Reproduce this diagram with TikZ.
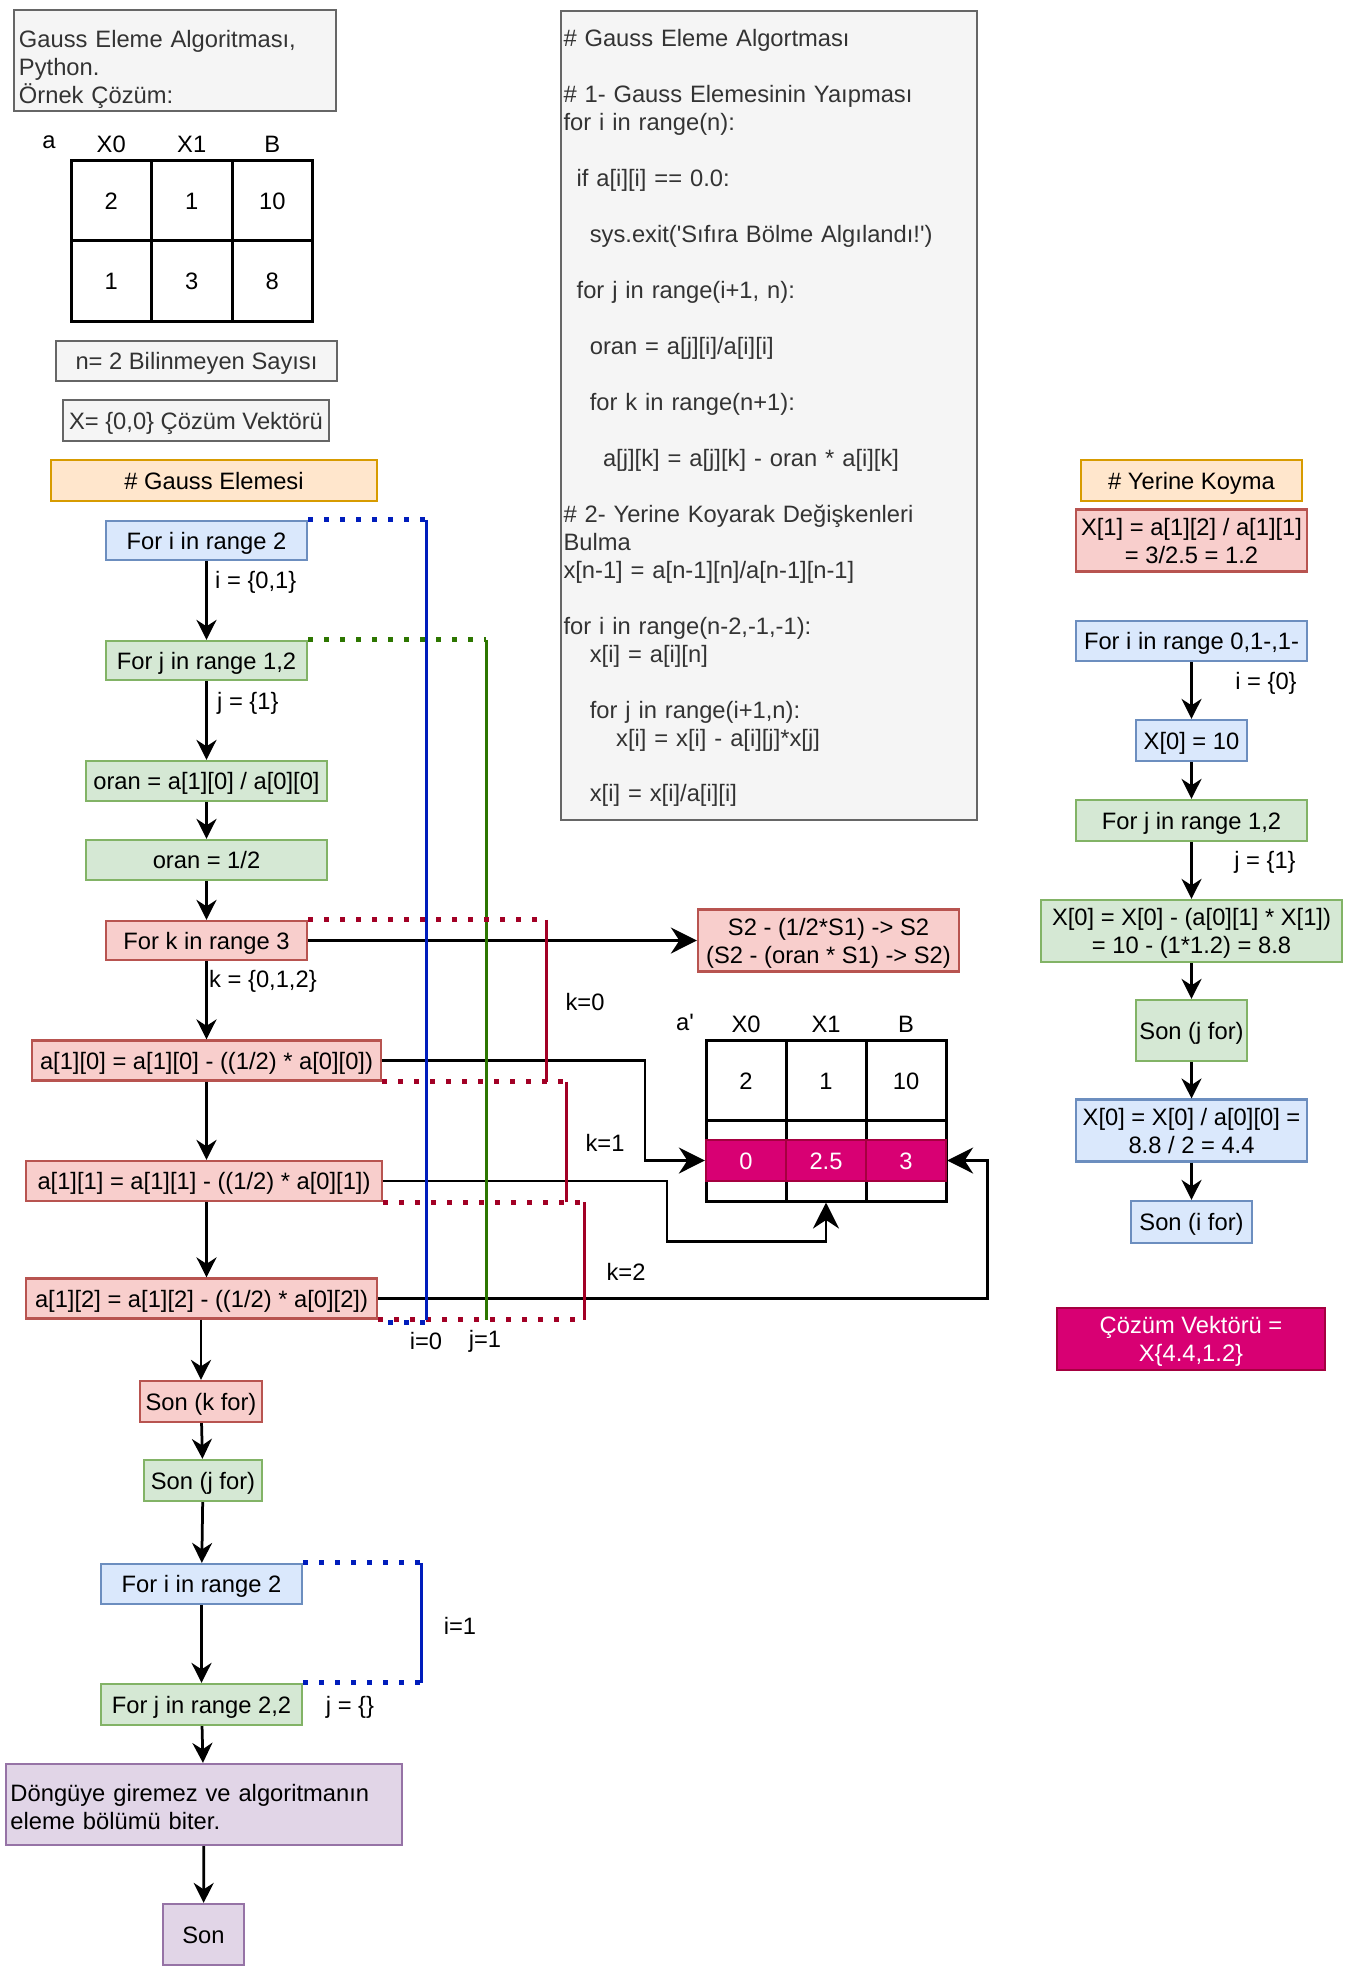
\documentclass[tikz,border=0pt]{standalone}
\usepackage{fontspec}
\setmainfont{Liberation Sans}
\newfontfamily\diafont{Liberation Sans}
\usetikzlibrary{arrows.meta}

\definecolor{bluefill}{HTML}{DAE8FC}
\definecolor{bluedraw}{HTML}{6C8EBF}
\definecolor{greenfill}{HTML}{D5E8D4}
\definecolor{greendraw}{HTML}{82B366}
\definecolor{redfill}{HTML}{F8CECC}
\definecolor{reddraw}{HTML}{B85450}
\definecolor{orangefill}{HTML}{FFE6CC}
\definecolor{orangedraw}{HTML}{D79B00}
\definecolor{purplefill}{HTML}{E1D5E7}
\definecolor{purpledraw}{HTML}{9673A6}
\definecolor{grayfill}{HTML}{F5F5F5}
\definecolor{graydraw}{HTML}{666666}
\definecolor{graytext}{HTML}{333333}
\definecolor{magfill}{HTML}{D80073}
\definecolor{magdraw}{HTML}{A50040}
\definecolor{iblue}{HTML}{001DBC}
\definecolor{jgreen}{HTML}{2D7600}
\definecolor{kred}{HTML}{A20025}

\newcommand{\codeind}[1]{\hspace*{#1\fontdimen2\font}}
\newcommand{\upstrut}{\rule{0pt}{13.2pt}}
\newcommand{\downstrut}{\rule[-3.2pt]{0pt}{0pt}}

\begin{document}
\begin{tikzpicture}[x=0.2mm, y=-0.2mm, font=\diafont\fontsize{13.5}{15.92}\selectfont]
		\tikzset{box/.style = {shape=rectangle, draw, line width=0.45mm, inner sep=0.5mm, align=center, text height=13.2pt, text depth=3.2pt},
			multi/.style = {text height=, text depth=},
			bluebox/.style = {box, fill=bluefill, draw=bluedraw},
			greenbox/.style = {box, fill=greenfill, draw=greendraw},
			redbox/.style = {box, fill=redfill, draw=reddraw},
			orangebox/.style = {box, fill=orangefill, draw=orangedraw},
			purplebox/.style = {box, fill=purplefill, draw=purpledraw},
			graybox/.style = {box, fill=grayfill, draw=graydraw, text=graytext},
			magbox/.style = {box, fill=magfill, draw=magdraw, text=white},
			cell/.style = {shape=rectangle, draw, line width=0.6mm, minimum width=16.1mm, minimum height=16.1mm, text height=13.2pt, text depth=3.2pt},
			arr/.style = {line width=0.55mm, -{Stealth[length=4mm, width=4mm, inset=1.3mm]}},
			bigarr/.style = {line width=0.55mm, -{Stealth[length=5.2mm, width=5.2mm, inset=1.7mm]}},
			idot/.style = {draw=iblue, line width=1mm, dash pattern=on 1.07mm off 2.13mm},
			iline/.style = {draw=iblue, line width=0.6mm},
			jdot/.style = {draw=jgreen, line width=1mm, dash pattern=on 1.07mm off 2.13mm},
			jline/.style = {draw=jgreen, line width=0.6mm},
			kdot/.style = {draw=kred, line width=1mm, dash pattern=on 1.07mm off 2.13mm},
			kline/.style = {draw=kred, line width=0.6mm}}

		\fill[white] (0,0) rectangle (1368,1987);

		\node[graybox, multi, text width=62.4mm, align=left, inner xsep=1mm, inner ysep=0.3mm, minimum height=20.2mm] (H_1) at (175,60.5) {\mbox{}\\[4pt]Gauss Eleme Algoritması,\\Python.\\Örnek Çözüm:};
		\node[graybox, minimum width=56.2mm, minimum height=8mm] (H_2) at (196.5,361) {n= 2 Bilinmeyen Sayısı};
		\node[graybox, minimum width=53.2mm, minimum height=8.2mm] (H_3) at (196,420.5) {X= \{0,0\} Çözüm Vektörü};
		\node[orangebox, minimum width=65.2mm, minimum height=8.2mm] (H_4) at (214,480.5) {\# Gauss Elemesi};
		\node[graybox, multi, text width=82.2mm, align=left, minimum height=161.8mm] (H_5) at (769,415.5) {\mbox{}\\[-3.1pt]\# Gauss Eleme Algortması\\
			\mbox{}\\
			\# 1- Gauss Elemesinin Yaıpması\\
			for i in range(n):\\
			\mbox{}\\
			\codeind{2}if a[i][i] == 0.0:\\
			\mbox{}\\
			\codeind{4}sys.exit('Sıfıra Bölme Algılandı!')\\
			\mbox{}\\
			\codeind{2}for j in range(i+1, n):\\
			\mbox{}\\
			\codeind{4}oran = a[j][i]/a[i][i]\\
			\mbox{}\\
			\codeind{4}for k in range(n+1):\\
			\mbox{}\\
			\codeind{6}a[j][k] = a[j][k] - oran * a[i][k]\\
			\mbox{}\\
			\# 2- Yerine Koyarak Değişkenleri\\
			Bulma\\
			x[n-1] = a[n-1][n]/a[n-1][n-1]\\
			\mbox{}\\
			for i in range(n-2,-1,-1):\\
			\codeind{4}x[i] = a[i][n]\\
			\mbox{}\\
			\codeind{4}for j in range(i+1,n):\\
			\codeind{8}x[i] = x[i] - a[i][j]*x[j]\\
			\mbox{}\\
			\codeind{4}x[i] = x[i]/a[i][i]};
		\node[orangebox, minimum width=44.2mm, minimum height=8.2mm] (H_6) at (1191.5,480.5) {\# Yerine Koyma};

		\node (A_0) at (49,142) {a};
		\node[cell, label=above:X0] (A_11) at (111.25,200.25) {2};
		\node[cell, label=above:X1] (A_12) at (191.75,200.25) {1};
		\node[cell, label=above:B] (A_13) at (272.25,200.25) {10};
		\node[cell] (A_21) at (111.25,280.75) {1};
		\node[cell] (A_22) at (191.75,280.75) {3};
		\node[cell] (A_23) at (272.25,280.75) {8};

		\node[bluebox, minimum width=40.2mm, minimum height=7.8mm] (L_1) at (206.5,540.5) {For i in range 2};
		\node[greenbox, minimum width=40.2mm, minimum height=7.8mm] (L_2) at (206.5,660.5) {For j in range 1,2};
		\node[greenbox, minimum width=48.2mm, minimum height=8mm] (L_3) at (206.5,781) {oran = a[1][0] / a[0][0]};
		\node[greenbox, minimum width=48.2mm, minimum height=8mm] (L_4) at (206.5,860) {oran = 1/2};
		\node[redbox, minimum width=40.2mm, minimum height=7.8mm] (L_5) at (206.5,940.5) {For k in range 3};
		\node[redbox, minimum width=69.8mm, minimum height=8mm] (L_6) at (206.5,1060.5) {a[1][0] = a[1][0] - ((1/2) * a[0][0])};
		\node[redbox, minimum width=71.2mm, minimum height=8mm] (L_7) at (204,1181) {a[1][1] = a[1][1] - ((1/2) * a[0][1])};
		\node[redbox, minimum width=70.2mm, minimum height=8mm] (L_8) at (201.5,1298.5) {a[1][2] = a[1][2] - ((1/2) * a[0][2])};
		\node[redbox, minimum width=24.4mm, minimum height=8.2mm] (L_9) at (201,1401.5) {Son (k for)};
		\node[greenbox, minimum width=23.6mm, minimum height=8.2mm] (L_10) at (203,1480.5) {Son (j for)};
		\node[bluebox, minimum width=40.2mm, minimum height=8mm] (L_11) at (201.5,1584) {For i in range 2};
		\node[greenbox, minimum width=40.2mm, minimum height=8.2mm] (L_12) at (201.5,1704.5) {For j in range 2,2};
		\node[purplebox, multi, text width=77.4mm, align=left, inner sep=0.9mm, minimum height=16.2mm] (L_13) at (204,1804.5) {\mbox{}\\[-3.1pt]Döngüye giremez ve algoritmanın\\eleme bölümü biter.};
		\node[purplebox, minimum width=16.2mm, minimum height=12.2mm] (L_14) at (203.5,1934.5) {Son};

		\draw[arr] (L_1)--(L_2);
		\draw[arr] (L_2)--(L_3);
		\draw[arr] (L_3)--(L_4);
		\draw[arr] (L_4)--(L_5);
		\draw[arr] (L_5)--(L_6);
		\draw[arr] (L_6)--(L_7.north -| L_6);
		\draw[arr] (L_7.south -| L_6)--(L_8.north -| L_6);
		\draw[arr] (L_8.south -| L_9)--(L_9);
		\draw[arr] (L_9)--(L_10);
		\draw[arr] (L_10)--(L_11);
		\draw[arr] (L_11)--(L_12);
		\draw[arr] (L_12)--(L_13);
		\draw[arr] (L_13)--(L_14);

		\node[anchor=west] (T_1) at (209,582) {i = \{0,1\}};
		\node[anchor=west] (T_2) at (211,703) {j = \{1\}};
		\node[anchor=west] (T_3) at (203,981) {k = \{0,1,2\}};
		\node (T_4) at (350,1707) {j = \{\}};
		\node (T_5) at (460,1626) {i=1};
		\node (T_6) at (585,1002) {k=0};
		\node (T_7) at (605,1143) {k=1};
		\node (T_8) at (626,1272) {k=2};
		\node (T_9) at (426,1341) {i=0};
		\node (T_10) at (485,1341) {j=1};

		\node[redbox, multi, minimum width=52.2mm, minimum height=12.2mm] (S_1) at (828.5,940.5) {\upstrut S2 - (1/2*S1) -> S2\\(S2 - (oran * S1) -> S2)\downstrut};
		\draw[bigarr] (L_5)--(S_1);

		\node (P_0) at (685,1022) {a'};
		\node[cell, minimum width=16mm, label=above:X0] (P_11) at (746,1080.25) {2};
		\node[cell, minimum width=16mm, label=above:X1] (P_12) at (826,1080.25) {1};
		\node[cell, minimum width=16mm, label=above:B] (P_13) at (906,1080.25) {10};
		\node[cell, minimum width=16mm] (P_21) at (746,1160.75) {};
		\node[cell, minimum width=16mm] (P_22) at (826,1160.75) {};
		\node[cell, minimum width=16mm] (P_23) at (906,1160.75) {};
		\node[magbox, minimum width=16mm, minimum height=8.2mm] (Q_1) at (746,1160.5) {0};
		\node[magbox, minimum width=16mm, minimum height=8.2mm] (Q_2) at (826,1160.5) {2.5};
		\node[magbox, minimum width=16mm, minimum height=8.2mm] (Q_3) at (906,1160.5) {3};

		\draw[bigarr] (L_6.east) -| ([xshift=-12mm]Q_1.west) -- (Q_1.west);
		\draw[bigarr] (L_7.east) -| ([shift={(-159,39)}]P_22.south) -| (P_22.south);
		\draw[bigarr] (L_8.east) -| ([xshift=8mm]Q_3.east) -- (Q_3.east);

		\coordinate (I_0) at (426,0);
		\coordinate (I_1) at (421,0);
		\coordinate (J_1) at (486,0);
		\coordinate (K_0) at (546,0);
		\coordinate (K_1) at (566,0);
		\coordinate (K_2) at (584.5,0);

		\draw[jdot] (L_2.north east)--(L_2.north east -| J_1);
		\draw[jline] (L_2.north east -| J_1)--(L_8.south east -| J_1);

		\draw[kdot] (L_5.north east)--(L_5.north east -| K_0);
		\draw[kline] (L_5.north east -| K_0)--(L_6.south east -| K_0);
		\draw[kdot] (L_6.south east)--(L_6.south east -| K_0);
		\draw[kdot] (L_6.south east)--(L_6.south east -| K_1);
		\draw[kline] (L_6.south east -| K_1)--(L_7.south east -| K_1);
		\draw[kdot] (L_7.south east)--(L_7.south east -| K_1);
		\draw[kdot] (L_7.south east)--(L_7.south east -| K_2);
		\draw[kline] (L_7.south east -| K_2)--(L_8.south east -| K_2);
		\draw[kdot] (L_8.south east)--(L_8.south east -| K_2);

		\draw[idot] (L_1.north east)--(L_1.north east -| I_0);
		\draw[iline] (L_1.north east -| I_0)--(L_8.south east -| I_0);
		\draw[idot, dash phase=1.2mm] ([yshift=-0.5mm]L_8.south east)--([yshift=-0.5mm]L_8.south east -| I_0);

		\draw[idot] (L_11.north east)--(L_11.north east -| I_1);
		\draw[iline] (L_11.north east -| I_1)--(L_12.north east -| I_1);
		\draw[idot] (L_12.north east)--(L_12.north east -| I_1);

		\node[redbox, multi, minimum width=46.2mm, minimum height=12.2mm] (R_1) at (1191.5,540.5) {\upstrut X[1] = a[1][2] / a[1][1]\\= 3/2.5 = 1.2\downstrut};
		\node[bluebox, minimum width=46.2mm, minimum height=8mm] (R_2) at (1191.5,641) {For i in range 0,1-,1-};
		\node[bluebox, minimum width=22.2mm, minimum height=8.2mm] (R_3) at (1191.5,740.5) {X[0] = 10};
		\node[greenbox, minimum width=46.2mm, minimum height=8.2mm] (R_4) at (1191.5,820.5) {For j in range 1,2};
		\node[greenbox, multi, minimum width=60.2mm, minimum height=12.4mm] (R_5) at (1191.5,931) {\upstrut X[0] = X[0] - (a[0][1] * X[1])\\= 10 - (1*1.2) = 8.8\downstrut};
		\node[greenbox, minimum width=22.2mm, minimum height=12.2mm] (R_6) at (1191.5,1030.5) {Son (j for)};
		\node[bluebox, multi, minimum width=46.2mm, minimum height=12.2mm] (R_7) at (1191.5,1130.5) {\upstrut X[0] = X[0] / a[0][0] =\\8.8 / 2 = 4.4\downstrut};
		\node[bluebox, minimum width=24.2mm, minimum height=8.4mm] (R_8) at (1191.5,1222) {Son (i for)};
		\node[magbox, multi, minimum width=53.6mm, minimum height=12.4mm] (R_9) at (1191,1339) {\upstrut Çözüm Vektörü =\\X\{4.4,1.2\}\downstrut};

		\draw[arr] (R_2)--(R_3);
		\draw[arr] (R_3)--(R_4);
		\draw[arr] (R_4)--(R_5);
		\draw[arr] (R_5)--(R_6);
		\draw[arr] (R_6)--(R_7);
		\draw[arr] (R_7)--(R_8);

		\node (T_11) at (1266,683) {i = \{0\}};
		\node (T_12) at (1265,862) {j = \{1\}};

	\end{tikzpicture}
\end{document}
